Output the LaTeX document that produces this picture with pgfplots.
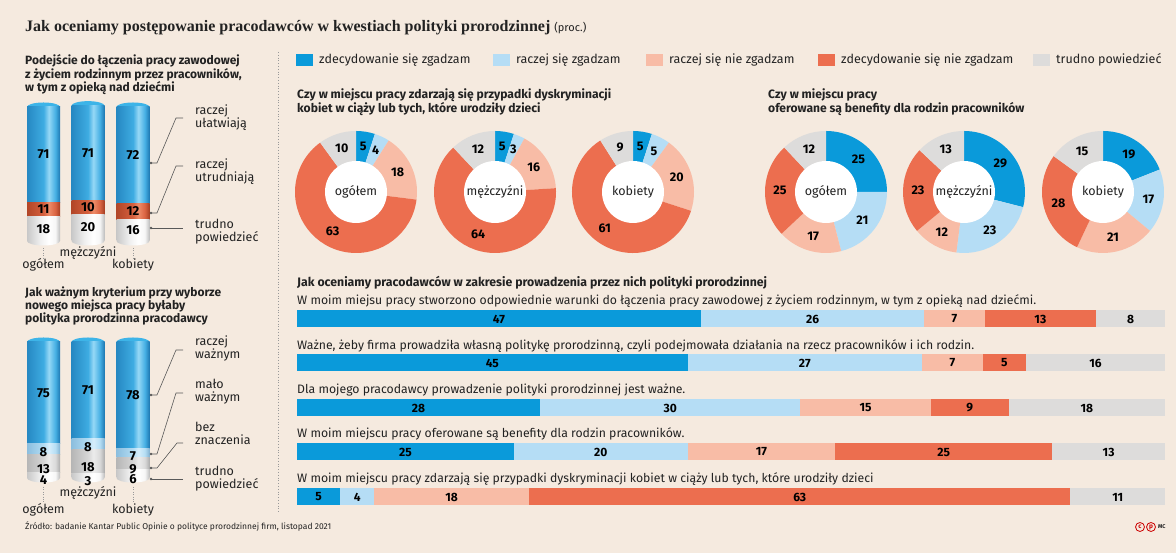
\documentclass[border=0pt]{standalone}
\usepackage{pgfplots}
\pgfplotsset{compat=1.18}
\usepackage{fontspec}
\setmainfont{Fira Sans}
\newfontfamily\titlefont{Liberation Serif}
\usetikzlibrary{shapes.geometric}

\newcommand{\fs}[2]{\fontsize{#1}{#2}\selectfont}

\definecolor{bg}{HTML}{F5EADF}
\definecolor{txt}{HTML}{222222}
\definecolor{cDB}{HTML}{0A9ADA}
\definecolor{cLB}{HTML}{B5DDF5}
\definecolor{cLS}{HTML}{F8BCA6}
\definecolor{cDS}{HTML}{EC6E4F}
\definecolor{cGR}{HTML}{DDDCDB}
\definecolor{cap}{HTML}{3DB4E8}

% cylinder shadings (colour varies left to right)
\pgfdeclarehorizontalshading{cylB}{100bp}{color(0bp)=(rgb,255:red,38;green,136;blue,194);
  color(25bp)=(rgb,255:red,38;green,136;blue,194); color(50bp)=(rgb,255:red,62;green,172;blue,226);
  color(58bp)=(rgb,255:red,150;green,216;blue,246); color(68bp)=(rgb,255:red,70;green,176;blue,228);
  color(75bp)=(rgb,255:red,30;green,120;blue,178); color(100bp)=(rgb,255:red,30;green,120;blue,178)}
\pgfdeclarehorizontalshading{cylO}{100bp}{color(0bp)=(rgb,255:red,178;green,70;blue,40);
  color(25bp)=(rgb,255:red,178;green,70;blue,40); color(50bp)=(rgb,255:red,214;green,96;blue,62);
  color(58bp)=(rgb,255:red,238;green,140;blue,105); color(68bp)=(rgb,255:red,218;green,100;blue,66);
  color(75bp)=(rgb,255:red,165;green,62;blue,34); color(100bp)=(rgb,255:red,165;green,62;blue,34)}
\pgfdeclarehorizontalshading{cylW}{100bp}{color(0bp)=(rgb,255:red,200;green,200;blue,200);
  color(25bp)=(rgb,255:red,200;green,200;blue,200); color(45bp)=(rgb,255:red,240;green,240;blue,240);
  color(58bp)=(rgb,255:red,255;green,255;blue,255); color(68bp)=(rgb,255:red,246;green,246;blue,246);
  color(75bp)=(rgb,255:red,190;green,190;blue,190); color(100bp)=(rgb,255:red,190;green,190;blue,190)}
\pgfdeclarehorizontalshading{cylL}{100bp}{color(0bp)=(rgb,255:red,140;green,190;blue,222);
  color(25bp)=(rgb,255:red,140;green,190;blue,222); color(50bp)=(rgb,255:red,178;green,220;blue,243);
  color(58bp)=(rgb,255:red,215;green,238;blue,251); color(68bp)=(rgb,255:red,182;green,222;blue,244);
  color(75bp)=(rgb,255:red,130;green,178;blue,210); color(100bp)=(rgb,255:red,130;green,178;blue,210)}
\pgfdeclarehorizontalshading{cylG}{100bp}{color(0bp)=(rgb,255:red,182;green,182;blue,182);
  color(25bp)=(rgb,255:red,182;green,182;blue,182); color(50bp)=(rgb,255:red,214;green,214;blue,214);
  color(58bp)=(rgb,255:red,236;green,236;blue,236); color(68bp)=(rgb,255:red,218;green,218;blue,218);
  color(75bp)=(rgb,255:red,172;green,172;blue,172); color(100bp)=(rgb,255:red,172;green,172;blue,172)}

\tikzset{
  lab/.style={text=txt, inner sep=0},
  lead/.style={draw=black!65, line width=0.6pt},
  ell/.style={ellipse, minimum width=33pt, minimum height=9pt, inner sep=0, draw=none},
}

\pgfplotsset{
  /pgf/number format/assume math mode=true,
  cyl/.style={hide axis, x=33pt, xmin=-0.5, xmax=0.5, ymin=0, ymax=100,
    ybar stacked, bar width=33pt, clip=false, enlargelimits=false, anchor=origin},
  cyllab/.style={cyl, nodes near coords,
    every node near coord/.append style={font=\bfseries\fs{13}{15}, text=black}},
  rowbar/.style={hide axis, xbar stacked, scale only axis, width=868pt, height=17pt,
    xmin=0, ymin=-0.5, ymax=0.5, bar width=17pt, anchor=west, clip=false,
    enlargelimits=false, nodes near coords,
    every node near coord/.append style={font=\bfseries\fs{12}{14}, text=black}},
}

% cylinder with three parts (bottom to top): x, origin y, y unit, values
\newcommand{\cylA}[6]{%
\begin{axis}[cyl, y=#3pt, at={(#1pt,#2pt)}]
\pgfplotsextra{\node[ell, shade, shading=cylW] at (axis cs:0,0) {};}
\addplot[draw=none, shade, shading=cylW] coordinates {(0,#4)};
\pgfplotsextra{\node[ell, shade, shading=cylO] at (axis cs:0,{#4}) {};}
\addplot[draw=none, shade, shading=cylO] coordinates {(0,#5)};
\pgfplotsextra{\node[ell, shade, shading=cylB] at (axis cs:0,{#4+#5}) {};}
\addplot[draw=none, shade, shading=cylB] coordinates {(0,#6)};
\pgfplotsextra{\node[ell, fill=cap] at (axis cs:0,{#4+#5+#6}) {};}
\end{axis}
\begin{axis}[cyllab, y=#3pt, at={(#1pt,#2pt)}]
\addplot[draw=none, fill=none] coordinates {(0,#4)};
\addplot[draw=none, fill=none] coordinates {(0,#5)};
\addplot[draw=none, fill=none] coordinates {(0,#6)};
\end{axis}}

% cylinder with four parts (bottom to top)
\newcommand{\cylB}[7]{%
\begin{axis}[cyl, y=#3pt, at={(#1pt,#2pt)}]
\pgfplotsextra{\node[ell, shade, shading=cylW] at (axis cs:0,0) {};}
\addplot[draw=none, shade, shading=cylW] coordinates {(0,#4)};
\pgfplotsextra{\node[ell, shade, shading=cylG] at (axis cs:0,{#4}) {};}
\addplot[draw=none, shade, shading=cylG] coordinates {(0,#5)};
\pgfplotsextra{\node[ell, shade, shading=cylL] at (axis cs:0,{#4+#5}) {};}
\addplot[draw=none, shade, shading=cylL] coordinates {(0,#6)};
\pgfplotsextra{\node[ell, shade, shading=cylB] at (axis cs:0,{#4+#5+#6}) {};}
\addplot[draw=none, shade, shading=cylB] coordinates {(0,#7)};
\pgfplotsextra{\node[ell, fill=cap] at (axis cs:0,{#4+#5+#6+#7}) {};}
\end{axis}
\begin{axis}[cyllab, y=#3pt, at={(#1pt,#2pt)}]
\addplot[draw=none, fill=none, every node near coord/.append style={yshift=-5pt}] coordinates {(0,#4)};
\addplot[draw=none, fill=none, every node near coord/.append style={yshift=-5pt}] coordinates {(0,#5)};
\addplot[draw=none, fill=none, every node near coord/.append style={yshift=-3pt}] coordinates {(0,#6)};
\addplot[draw=none, fill=none] coordinates {(0,#7)};
\end{axis}}

% one row of the horizontal 100% bars: y, five values, row total
\newcommand{\hrow}[7]{%
\begin{axis}[rowbar, at={(297pt,#1pt)}, xmax=#7]
\addplot[draw=none, fill=cDB] coordinates {(#2,0)};
\addplot[draw=none, fill=cLB] coordinates {(#3,0)};
\addplot[draw=none, fill=cLS] coordinates {(#4,0)};
\addplot[draw=none, fill=cDS] coordinates {(#5,0)};
\addplot[draw=none, fill=cGR] coordinates {(#6,0)};
\end{axis}}

% donut: centre x, label, five values (clockwise from top)
\newcommand{\donut}[7]{%
\begin{axis}[hide axis, x=1pt, y=1pt, xmin=-62, xmax=62, ymin=-62, ymax=62,
  at={(#1pt,361pt)}, anchor=center, clip=false]
\pgfplotsextra{%
  \gdef\cum{0}%
  \foreach \val/\col in {#3/cDB,#4/cLB,#5/cLS,#6/cDS,#7/cGR}{%
    \pgfmathsetmacro\sa{90-3.6*\cum}%
    \pgfmathsetmacro\sb{90-3.6*(\cum+\val)}%
    \fill[\col] (axis cs:0,0) -- (axis cs:{61*cos(\sa)},{61*sin(\sa)})
      arc[start angle=\sa, end angle=\sb, radius=61pt] -- cycle;
    \pgfmathsetmacro\cumn{\cum+\val}\xdef\cum{\cumn}%
  }%
  \fill[white] (axis cs:0,0) circle[radius=31pt];
  \node[lab, font=\fs{12.5}{14}] at (axis cs:0,0) {#2};
  \gdef\cum{0}%
  \foreach \val in {#3,#4,#5,#6,#7}{%
    \pgfmathsetmacro\smid{90-3.6*(\cum+\val/2)}%
    \node[text=black, font=\bfseries\fs{12.5}{14}] at (axis cs:{46*cos(\smid)},{46*sin(\smid)}) {\val};
    \pgfmathsetmacro\cumn{\cum+\val}\xdef\cum{\cumn}%
  }%
}
\end{axis}}

\begin{document}
\begin{tikzpicture}[x=1pt,y=1pt]
\path[use as bounding box] (0,0) rectangle (1176,553);
\fill[bg] (0,0) rectangle (1176,553);

% title
\node[lab, anchor=base west] at (25,521)
  {{\titlefont\bfseries\fs{16}{18}Jak oceniamy postępowanie pracodawców w kwestiach polityki prorodzinnej}\hspace{4pt}{\fs{11}{13}(proc.)}};

% separator
\draw[black!40, dotted, line width=0.8pt] (278,501) -- (278,41);

% ---------- left panel 1 ----------
\node[lab, anchor=north west, align=left, font=\bfseries\fs{12}{13}] at (25,499)
  {Podejście do łączenia pracy zawodowej\\z życiem rodzinnym przez pracowników,\\w tym z opieką nad dziećmi};

% trudno powiedzieć / raczej utrudniają / raczej ułatwiają
\cylA{43.5}{312}{1.34}{18}{11}{71}
\cylA{88}{312}{1.34}{20}{10}{71}
\cylA{133}{312}{1.34}{16}{12}{72}

\draw[black!40, dotted] (43.5,305) -- (43.5,295);
\draw[black!40, dotted] (133,305) -- (133,295);
\node[lab, font=\fs{12.5}{14}] at (43.5,288) {ogółem};
\node[lab, font=\fs{12.5}{14}] at (88,300) {mężczyźni};
\node[lab, font=\fs{12.5}{14}] at (133,288) {kobiety};

\draw[lead] (151,390) -- (157,390) -- (176,435) -- (183,435);
\draw[lead] (151,340) -- (157,340) -- (176,387) -- (183,387);
\draw[lead] (151,325) -- (183,325);
\foreach \yy in {390,340,325} \fill[black!65] (151,\yy) circle[radius=1.4];
\node[lab, anchor=north west, align=left, font=\fs{12.5}{13}] at (195,448) {raczej\\ułatwiają};
\node[lab, anchor=north west, align=left, font=\fs{12.5}{13}] at (195,394) {raczej\\utrudniają};
\node[lab, anchor=north west, align=left, font=\fs{12.5}{13}] at (195,334) {trudno\\powiedzieć};

% ---------- left panel 2 ----------
\node[lab, anchor=north west, align=left, font=\bfseries\fs{12}{13}] at (25,266)
  {Jak ważnym kryterium przy wyborze\\nowego miejsca pracy byłaby\\polityka prorodzinna pracodawcy};

% trudno powiedzieć / bez znaczenia / mało ważnym / raczej ważnym
\cylB{43.5}{75}{1.36}{4}{13}{8}{75}
\cylB{88}{75}{1.36}{3}{18}{8}{71}
\cylB{133}{75}{1.36}{6}{9}{7}{78}

\draw[black!40, dotted] (43.5,66) -- (43.5,50);
\draw[black!40, dotted] (133,66) -- (133,50);
\node[lab, font=\fs{12.5}{14}] at (43.5,43) {ogółem};
\node[lab, font=\fs{12.5}{14}] at (88,60) {mężczyźni};
\node[lab, font=\fs{12.5}{14}] at (133,43) {kobiety};

\draw[lead] (151,158) -- (157,158) -- (176,203) -- (183,203);
\draw[lead] (151,99) -- (157,99) -- (176,160) -- (183,160);
\draw[lead] (151,85) -- (157,85) -- (177,110) -- (183,110);
\draw[lead] (151,74) -- (183,74);
\foreach \yy in {158,99,85,74} \fill[black!65] (151,\yy) circle[radius=1.4];
\node[lab, anchor=north west, align=left, font=\fs{12.5}{13}] at (195,217) {raczej\\ważnym};
\node[lab, anchor=north west, align=left, font=\fs{12.5}{13}] at (195,174) {mało\\ważnym};
\node[lab, anchor=north west, align=left, font=\fs{12.5}{13}] at (195,131) {bez\\znaczenia};
\node[lab, anchor=north west, align=left, font=\fs{12.5}{13}] at (195,87) {trudno\\powiedzieć};

% ---------- legend ----------
\foreach \xx/\col/\txt in {296/cDB/zdecydowanie się zgadzam, 493/cLB/raczej się zgadzam,
    646/cLS/raczej się nie zgadzam, 818/cDS/zdecydowanie się nie zgadzam, 1033/cGR/trudno powiedzieć}{
  \fill[\col] (\xx,487) rectangle ++(17,12);
  \node[lab, anchor=west, font=\fs{12.5}{14}] at (\xx+23,493) {\txt};
}

% ---------- donuts ----------
\node[lab, anchor=north west, align=left, font=\bfseries\fs{12.1}{14}] at (297,465)
  {Czy w miejscu pracy zdarzają się przypadki dyskryminacji\\kobiet w ciąży lub tych, które urodziły dzieci};
\node[lab, anchor=north west, align=left, font=\bfseries\fs{12.1}{14}] at (768,465)
  {Czy w miejscu pracy\\oferowane są benefity dla rodzin pracowników};

\donut{356}{ogółem}{5}{4}{18}{63}{10}
\donut{495}{mężczyźni}{5}{3}{16}{64}{12}
\donut{633}{kobiety}{5}{5}{20}{61}{9}
\donut{826}{ogółem}{25}{21}{17}{25}{12}
\donut{964}{mężczyźni}{29}{23}{12}{23}{13}
\donut{1103}{kobiety}{19}{17}{21}{28}{15}

% ---------- horizontal bars ----------
\node[lab, anchor=west, font=\bfseries\fs{12.3}{14}] at (297,270)
  {Jak oceniamy pracodawców w zakresie prowadzenia przez nich polityki prorodzinnej};
\node[lab, anchor=west, font=\fs{12.25}{14}] at (297,252)
  {W moim miejsu pracy stworzono odpowiednie warunki do łączenia pracy zawodowej z życiem rodzinnym, w tym z opieką nad dziećmi.};
\node[lab, anchor=west, font=\fs{12.25}{14}] at (297,207)
  {Ważne, żeby firma prowadziła własną politykę prorodzinną, czyli podejmowała działania na rzecz pracowników i ich rodzin.};
\node[lab, anchor=west, font=\fs{12.25}{14}] at (297,163)
  {Dla mojego pracodawcy prowadzenie polityki prorodzinnej jest ważne.};
\node[lab, anchor=west, font=\fs{12.25}{14}] at (297,119)
  {W moim miejscu pracy oferowane są benefity dla rodzin pracowników.};
\node[lab, anchor=west, font=\fs{12.25}{14}] at (297,74)
  {W moim miejscu pracy zdarzają się przypadki dyskryminacji kobiet w ciąży lub tych, które urodziły dzieci};

\hrow{234}{47}{26}{7}{13}{8}{101}
\hrow{190}{45}{27}{7}{5}{16}{100}
\hrow{145}{28}{30}{15}{9}{18}{100}
\hrow{101}{25}{20}{17}{25}{13}{100}
\hrow{56}{5}{4}{18}{63}{11}{101}

% ---------- footer ----------
\node[lab, anchor=west, font=\fs{8.5}{10}] at (25,26)
  {Źródło: badanie Kantar Public Opinie o polityce prorodzinnej firm, listopad 2021};
\foreach \xx/\ll in {1140/c,1151/p}{
  \draw[red!80!black, line width=0.8pt] (\xx,26) circle[radius=4.5];
  \node[text=red!80!black, font=\bfseries\fs{6.5}{7}, inner sep=0] at (\xx,26) {\ll};
}
\node[lab, anchor=west, font=\bfseries\fs{5.5}{6}] at (1158,26) {MC};
\end{tikzpicture}
\end{document}
